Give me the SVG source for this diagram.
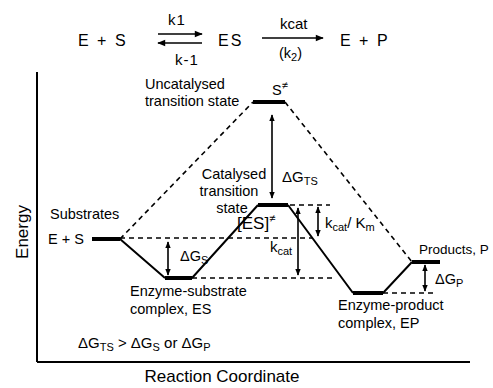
<svg xmlns="http://www.w3.org/2000/svg" width="493" height="388" viewBox="0 0 493 388">
<defs>
<style>
text{font-family:"Liberation Sans",Arial,sans-serif;fill:#000}
.t{font-size:14.5px}
.eq{font-size:16px;letter-spacing:2px}
.sm{font-size:15px}
.sub{font-size:11px}
.lvl{stroke:#000;stroke-width:4;fill:none}
.sol{stroke:#000;stroke-width:2;fill:none}
.dsh{stroke:#000;stroke-width:1.6;stroke-dasharray:5,4;fill:none}
.ar{stroke:#000;stroke-width:1.6;fill:none;marker-end:url(#ah);marker-start:url(#ahs)}
</style>
<marker id="ah" viewBox="0 0 10 10" refX="9" refY="5" markerWidth="7" markerHeight="7" markerUnits="userSpaceOnUse" orient="auto"><path d="M0,1 L10,5 L0,9 Z" fill="#000"/></marker>
<marker id="ahs" viewBox="0 0 10 10" refX="1" refY="5" markerWidth="7" markerHeight="7" markerUnits="userSpaceOnUse" orient="auto"><path d="M10,1 L0,5 L10,9 Z" fill="#000"/></marker>
<marker id="eh" viewBox="0 0 10 10" refX="9" refY="5" markerWidth="10" markerHeight="8" markerUnits="userSpaceOnUse" orient="auto"><path d="M0,1 L10,5 L0,9 Z" fill="#000"/></marker>
</defs>

<g id="equation">
<text class="eq" x="78" y="46">E + S</text>
<text class="sm" x="168" y="25" letter-spacing="1">k1</text>
<text class="sm" x="175" y="65" letter-spacing="1">k-1</text>
<text class="eq" x="218" y="46">ES</text>
<text class="sm" x="280" y="29">kcat</text>
<text class="t" x="279" y="58">(k<tspan class="sub" dy="3">2</tspan><tspan dy="-3">)</tspan></text>
<text class="eq" x="340" y="46">E + P</text>
<line x1="158" y1="34" x2="202" y2="34" stroke="#000" stroke-width="1.6" marker-end="url(#eh)"/>
<line x1="202" y1="43" x2="158" y2="43" stroke="#000" stroke-width="1.6" marker-end="url(#eh)"/>
<line x1="262" y1="38" x2="323" y2="38" stroke="#000" stroke-width="1.6" marker-end="url(#eh)"/>
</g>

<g id="axes">
<line x1="37" y1="72" x2="37" y2="362" stroke="#000" stroke-width="2"/>
<line x1="37" y1="362" x2="470" y2="362" stroke="#000" stroke-width="2"/>
<text x="22" y="232" font-size="17" text-anchor="middle" transform="rotate(-90 22 232)" dy="6">Energy</text>
<text x="222" y="382" font-size="17" text-anchor="middle">Reaction Coordinate</text>
</g>

<g id="connectors">
<path class="dsh" d="M120,239 L253,102"/>
<path class="dsh" d="M285,102 L412,262"/>
<path class="dsh" d="M120,238 L313,238"/>
<path class="dsh" d="M192,278 L335,278"/>
<path class="dsh" d="M290,205 L330,205"/>
<path class="dsh" d="M383,293 L435,293"/>
<path class="sol" d="M120,239 L165,278 M192,278 L258,205 M288,205 L353,293 M383,293 L412,262"/>
<line class="ar" x1="272" y1="115" x2="272" y2="198"/>
<line class="ar" x1="318" y1="207" x2="318" y2="236"/>
<line class="ar" x1="298" y1="208" x2="298" y2="275"/>
<line class="ar" x1="168" y1="242" x2="168" y2="275"/>
<line class="ar" x1="425" y1="265" x2="425" y2="291"/>
</g>

<g id="substrates">
<line class="lvl" x1="92" y1="239" x2="120" y2="239"/>
<text class="t" x="50" y="219">Substrates</text>
<text class="t" x="48" y="244">E + S</text>
</g>

<g id="es">
<line class="lvl" x1="165" y1="278" x2="192" y2="278"/>
<text class="t" x="130" y="296">Enzyme-substrate</text>
<text class="t" x="130" y="314">complex, ES</text>
<text class="t" x="180" y="261">ΔG<tspan class="sub" dy="3">S</tspan></text>
</g>

<g id="uncatalysed-ts">
<line class="lvl" x1="253" y1="102" x2="285" y2="102"/>
<text class="t" x="272" y="95">S<tspan class="sub" dy="-6">≠</tspan></text>
<text class="t" x="145" y="89">Uncatalysed</text>
<text class="t" x="145" y="106">transition state</text>
<text class="sm" x="282" y="182">ΔG<tspan class="sub" dy="3">TS</tspan></text>
</g>

<g id="catalysed-ts">
<line class="lvl" x1="258" y1="205" x2="288" y2="205"/>
<text class="t" x="234" y="179" text-anchor="middle">Catalysed</text>
<text class="t" x="229" y="196" text-anchor="middle">transition</text>
<text class="t" x="232" y="213" text-anchor="middle">state</text>
<text x="237" y="229" font-size="17">[ES]<tspan class="sub" dy="-7">≠</tspan></text>
<text class="sm" x="325" y="228">k<tspan class="sub" dy="3">cat</tspan><tspan dy="-3">/ K</tspan><tspan class="sub" dy="3">m</tspan></text>
<text class="sm" x="270" y="252">k<tspan class="sub" dy="3">cat</tspan></text>
</g>

<g id="ep">
<line class="lvl" x1="353" y1="293" x2="383" y2="293"/>
<text class="t" x="338" y="310">Enzyme-product</text>
<text class="t" x="338" y="328">complex, EP</text>
</g>

<g id="products">
<line class="lvl" x1="412" y1="262" x2="440" y2="262"/>
<text x="419" y="254" font-size="13.5">Products, P</text>
<text class="t" x="435" y="284">ΔG<tspan class="sub" dy="3">P</tspan></text>
</g>

<g id="note">
<text class="sm" x="78" y="348">ΔG<tspan class="sub" dy="3">TS</tspan><tspan dy="-3"> &gt; ΔG</tspan><tspan class="sub" dy="3">S</tspan><tspan dy="-3"> or ΔG</tspan><tspan class="sub" dy="3">P</tspan></text>
</g>
</svg>
